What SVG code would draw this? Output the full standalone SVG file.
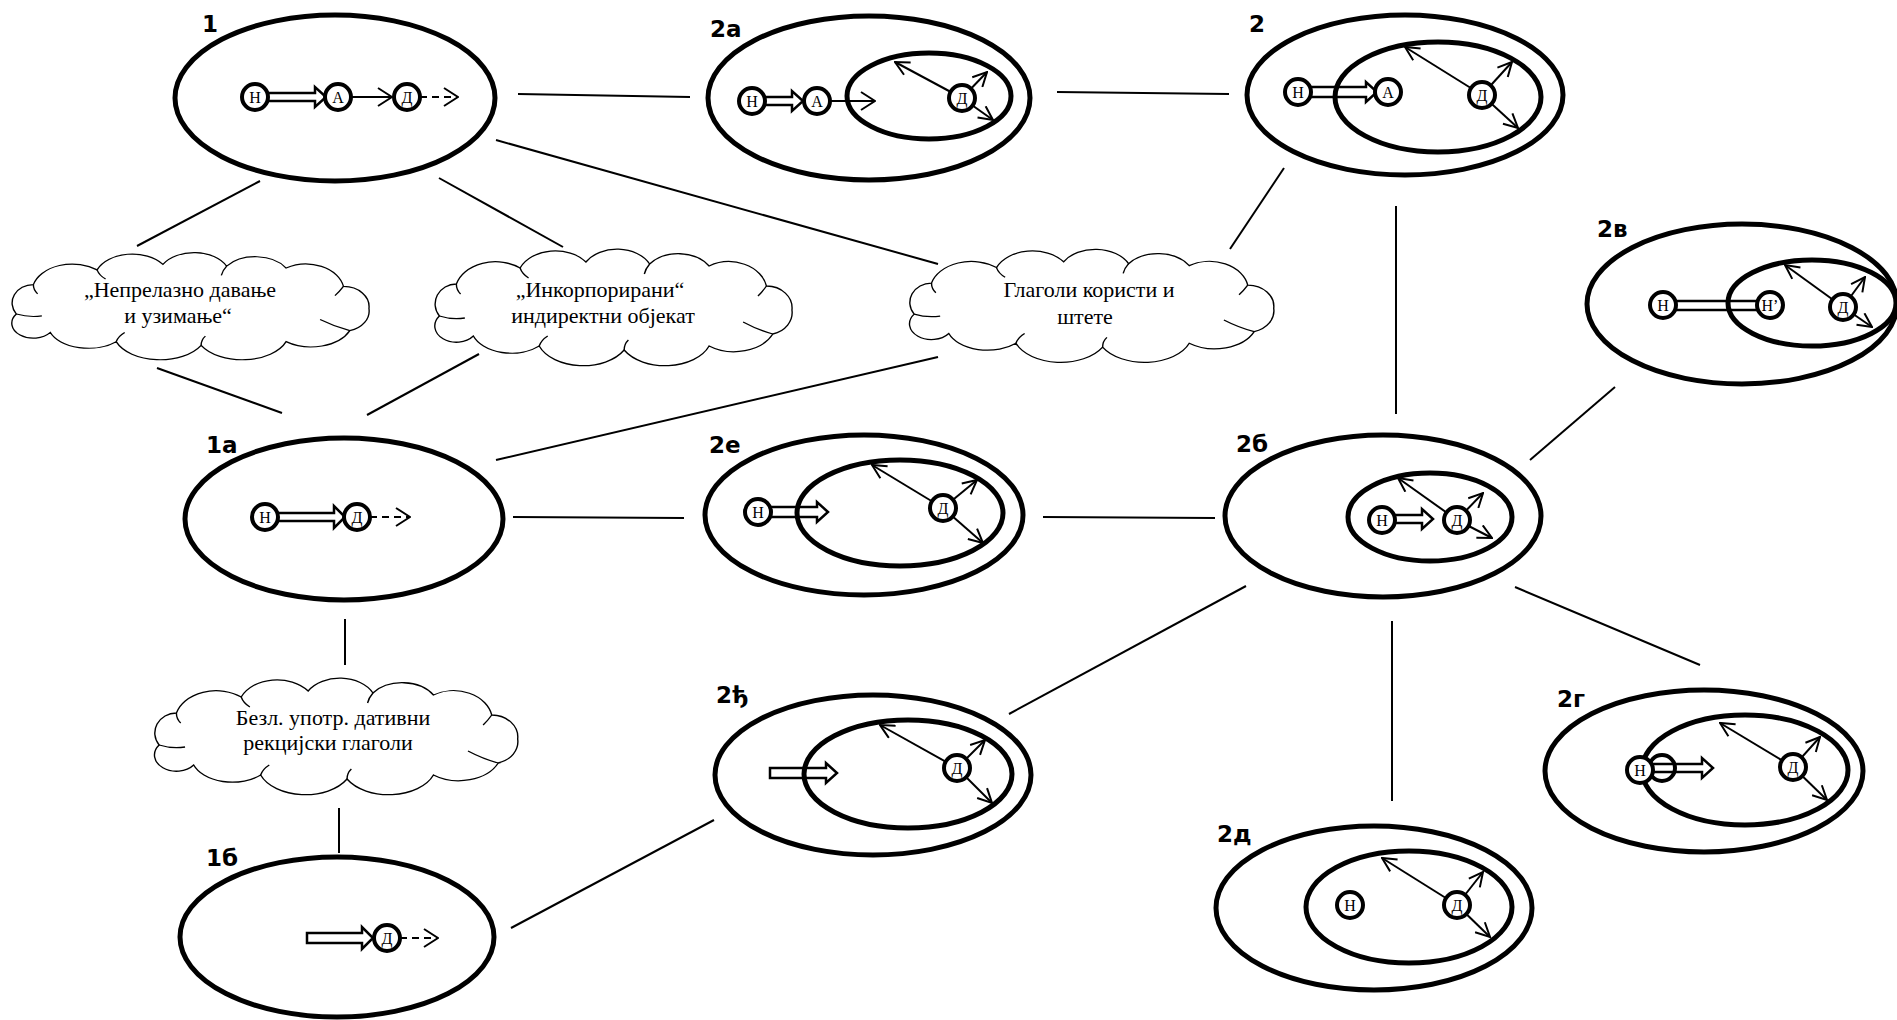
<svg xmlns="http://www.w3.org/2000/svg" width="1897" height="1020" viewBox="0 0 1897 1020">
<style>
.ol{fill:none;stroke:#000;stroke-width:5}
.ci{fill:#fff;stroke:#000;stroke-width:4}
.ln{stroke:#000;stroke-width:2;fill:none}
.ar{stroke:#000;stroke-width:2;fill:none;marker-end:url(#big)}
.da{stroke:#000;stroke-width:2;fill:none;stroke-dasharray:7 5;marker-end:url(#big)}
.sa{stroke:#000;stroke-width:2;fill:none;marker-end:url(#sm)}
.blk{fill:#fff;stroke:#000;stroke-width:2.5;stroke-linejoin:miter}
.lbl{font-family:"DejaVu Sans",sans-serif;font-weight:bold;font-size:23px;fill:#000}
.ct{font-family:"Liberation Serif",serif;font-size:16px;text-anchor:middle;fill:#000}
.cl{fill:#fff;stroke:#000;stroke-width:1.3}
.cli{fill:none;stroke:#000;stroke-width:1.3}
.clt{font-family:"Liberation Serif",serif;font-size:22px;text-anchor:middle;fill:#000}
</style>
<defs>
<marker id="big" viewBox="0 0 16 20" refX="15" refY="10" markerWidth="16" markerHeight="20" markerUnits="userSpaceOnUse" orient="auto">
<path d="M1,1 L15,10 L1,19" fill="none" stroke="#000" stroke-width="2"/>
</marker>
<marker id="sm" viewBox="0 0 16 16" refX="15" refY="8" markerWidth="16" markerHeight="16" markerUnits="userSpaceOnUse" orient="auto">
<path d="M1,1 L15,8 L1,15" fill="none" stroke="#000" stroke-width="2"/>
</marker>
<g id="cloud">
<path class="cl" d="M14,62 A20,20 0 0 1 30,30 A38,30 0 0 1 90,14 A36,28 0 0 1 152,8 A34,26 0 0 1 212,10 A34,26 0 0 1 268,12 A36,30 0 0 1 322,32 A24,22 0 0 1 346,56 A24,22 0 0 1 328,80 A40,30 0 0 1 268,92 A44,30 0 0 1 188,96 A44,30 0 0 1 108,92 A38,26 0 0 1 46,82 A20,16 0 0 1 14,62 Z"/>
<path class="cli" d="M14,62 Q26,66 38,64 M30,30 Q30,36 34,40 M90,14 Q92,20 98,24 M212,10 Q208,15 207,20 M322,32 Q318,38 314,42 M328,80 Q314,76 300,68 M188,96 Q188,90 192,86 M108,92 Q110,86 116,82"/>
</g>
</defs>

<g id="connectors">
<line class="ln" x1="518" y1="94" x2="690" y2="97"/>
<line class="ln" x1="1057" y1="92" x2="1229" y2="94"/>
<line class="ln" x1="260" y1="181" x2="137" y2="246"/>
<line class="ln" x1="439" y1="178" x2="563" y2="247"/>
<line class="ln" x1="496" y1="140" x2="938" y2="264"/>
<line class="ln" x1="1284" y1="168" x2="1230" y2="249"/>
<line class="ln" x1="157" y1="368" x2="282" y2="413"/>
<line class="ln" x1="479" y1="354" x2="367" y2="415"/>
<line class="ln" x1="938" y1="357" x2="496" y2="460"/>
<line class="ln" x1="513" y1="517" x2="684" y2="518"/>
<line class="ln" x1="1043" y1="517" x2="1215" y2="518"/>
<line class="ln" x1="1396" y1="206" x2="1396" y2="414"/>
<line class="ln" x1="1530" y1="460" x2="1615" y2="387"/>
<line class="ln" x1="1246" y1="586" x2="1009" y2="714"/>
<line class="ln" x1="1392" y1="621" x2="1392" y2="801"/>
<line class="ln" x1="1515" y1="587" x2="1700" y2="665"/>
<line class="ln" x1="345" y1="619" x2="345" y2="665"/>
<line class="ln" x1="339" y1="808" x2="339" y2="853"/>
<line class="ln" x1="511" y1="928" x2="714" y2="820"/>
</g>

<g id="cloud1">
<use href="#cloud" transform="translate(1.5,257) scale(1.062,0.92)"/>
<text class="clt" x="180" y="297">„Непрелазно давање</text>
<text class="clt" x="178" y="323">и узимање“</text>
</g>
<g id="cloud2">
<use href="#cloud" transform="translate(424.5,254) scale(1.062,1.0)"/>
<text class="clt" x="600" y="297">„Инкорпорирани“</text>
<text class="clt" x="603" y="323">индиректни објекат</text>
</g>
<g id="cloud3">
<use href="#cloud" transform="translate(899,254) scale(1.083,0.97)"/>
<text class="clt" x="1089" y="297">Глаголи користи и</text>
<text class="clt" x="1085" y="324">штете</text>
</g>
<g id="cloud4">
<use href="#cloud" transform="translate(144,683) scale(1.08,1.0)"/>
<text class="clt" x="333" y="725">Безл. употр. дативни</text>
<text class="clt" x="328" y="750">рекцијски глаголи</text>
</g>

<g id="n1">
<ellipse class="ol" cx="335" cy="98" rx="160" ry="83"/>
<text class="lbl" x="202" y="32">1</text>
<path class="blk" d="M262,93 L315,93 L315,87 L326,97 L315,107 L315,101 L262,101 Z"/>
<line class="ar" x1="350" y1="97" x2="392" y2="97"/>
<line class="da" x1="420" y1="97" x2="458" y2="97"/>
<circle class="ci" cx="255" cy="97" r="13"/><text class="ct" x="255" y="102.5">Н</text>
<circle class="ci" cx="338" cy="97" r="13"/><text class="ct" x="338" y="102.5">А</text>
<circle class="ci" cx="407" cy="97" r="13"/><text class="ct" x="407" y="102.5">Д</text>
</g>

<g id="n2a">
<ellipse class="ol" cx="869" cy="98" rx="161" ry="82"/>
<text class="lbl" x="710" y="37">2а</text>
<path class="blk" d="M758,97 L792,97 L792,91 L803,101 L792,111 L792,105 L758,105 Z"/>
<line class="ar" x1="828" y1="101" x2="875" y2="101"/>
<ellipse class="ol" cx="929" cy="96" rx="82" ry="43"/>
<line class="sa" x1="962" y1="98" x2="895" y2="62"/>
<line class="sa" x1="962" y1="98" x2="987" y2="72"/>
<line class="sa" x1="962" y1="98" x2="993" y2="120"/>
<circle class="ci" cx="752" cy="101" r="13"/><text class="ct" x="752" y="106.5">Н</text>
<circle class="ci" cx="817" cy="101" r="13"/><text class="ct" x="817" y="106.5">А</text>
<circle class="ci" cx="962" cy="98" r="13"/><text class="ct" x="962" y="103.5">Д</text>
</g>

<g id="n2">
<ellipse class="ol" cx="1405" cy="95" rx="158" ry="80"/>
<text class="lbl" x="1249" y="32">2</text>
<path class="blk" d="M1305,87 L1366,87 L1366,82 L1377,92 L1366,102 L1366,97 L1305,97 Z"/>
<ellipse class="ol" cx="1438" cy="97" rx="103" ry="55"/>
<line class="sa" x1="1482" y1="95" x2="1405" y2="47"/>
<line class="sa" x1="1482" y1="95" x2="1512" y2="62"/>
<line class="sa" x1="1482" y1="95" x2="1518" y2="128"/>
<circle class="ci" cx="1298" cy="92" r="13"/><text class="ct" x="1298" y="97.5">Н</text>
<circle class="ci" cx="1388" cy="92" r="13"/><text class="ct" x="1388" y="97.5">А</text>
<circle class="ci" cx="1482" cy="95" r="13"/><text class="ct" x="1482" y="100.5">Д</text>
</g>

<g id="n2v">
<ellipse class="ol" cx="1742" cy="304" rx="155" ry="80"/>
<text class="lbl" x="1597" y="237">2в</text>
<rect class="blk" x="1672" y="301" width="90" height="9"/>
<ellipse class="ol" cx="1812" cy="303" rx="84" ry="43"/>
<line class="sa" x1="1843" y1="307" x2="1785" y2="265"/>
<line class="sa" x1="1843" y1="307" x2="1865" y2="277"/>
<line class="sa" x1="1843" y1="307" x2="1872" y2="327"/>
<circle class="ci" cx="1663" cy="305" r="13"/><text class="ct" x="1663" y="310.5">Н</text>
<circle class="ci" cx="1770" cy="305" r="13"/><text class="ct" x="1770" y="310.5">Н’</text>
<circle class="ci" cx="1843" cy="307" r="13"/><text class="ct" x="1843" y="312.5">Д</text>
</g>

<g id="n1a">
<ellipse class="ol" cx="344" cy="519" rx="159" ry="81"/>
<text class="lbl" x="206" y="453">1а</text>
<path class="blk" d="M270,513 L334,513 L334,506 L345,517 L334,528 L334,521 L270,521 Z"/>
<line class="da" x1="370" y1="517" x2="410" y2="517"/>
<circle class="ci" cx="265" cy="517" r="13"/><text class="ct" x="265" y="522.5">Н</text>
<circle class="ci" cx="357" cy="517" r="13"/><text class="ct" x="357" y="522.5">Д</text>
</g>

<g id="n2e">
<ellipse class="ol" cx="864" cy="515" rx="159" ry="80"/>
<text class="lbl" x="709" y="453">2е</text>
<path class="blk" d="M765,507 L817,507 L817,502 L828,512 L817,522 L817,517 L765,517 Z"/>
<ellipse class="ol" cx="900" cy="513" rx="103" ry="53"/>
<line class="sa" x1="943" y1="508" x2="872" y2="465"/>
<line class="sa" x1="943" y1="508" x2="977" y2="480"/>
<line class="sa" x1="943" y1="508" x2="983" y2="543"/>
<circle class="ci" cx="758" cy="512" r="13"/><text class="ct" x="758" y="517.5">Н</text>
<circle class="ci" cx="943" cy="508" r="13"/><text class="ct" x="943" y="513.5">Д</text>
</g>

<g id="n2b">
<ellipse class="ol" cx="1383" cy="516" rx="158" ry="81"/>
<text class="lbl" x="1236" y="452">2б</text>
<path class="blk" d="M1390,515 L1422,515 L1422,509 L1433,519 L1422,529 L1422,523 L1390,523 Z"/>
<ellipse class="ol" cx="1430" cy="517" rx="82" ry="44"/>
<line class="sa" x1="1457" y1="520" x2="1398" y2="478"/>
<line class="sa" x1="1457" y1="520" x2="1483" y2="493"/>
<line class="sa" x1="1457" y1="520" x2="1492" y2="538"/>
<circle class="ci" cx="1382" cy="520" r="13"/><text class="ct" x="1382" y="525.5">Н</text>
<circle class="ci" cx="1457" cy="520" r="13"/><text class="ct" x="1457" y="525.5">Д</text>
</g>

<g id="n2dj">
<ellipse class="ol" cx="873" cy="775" rx="158" ry="80"/>
<text class="lbl" x="716" y="703">2ђ</text>
<path class="blk" d="M770,768 L826,768 L826,763 L837,773 L826,783 L826,778 L770,778 Z"/>
<ellipse class="ol" cx="908" cy="774" rx="104" ry="54"/>
<line class="sa" x1="957" y1="768" x2="880" y2="725"/>
<line class="sa" x1="957" y1="768" x2="985" y2="740"/>
<line class="sa" x1="957" y1="768" x2="992" y2="803"/>
<circle class="ci" cx="957" cy="768" r="13"/><text class="ct" x="957" y="773.5">Д</text>
</g>

<g id="n2g">
<ellipse class="ol" cx="1704" cy="771" rx="159" ry="81"/>
<text class="lbl" x="1557" y="707">2г</text>
<path class="blk" d="M1648,764 L1702,764 L1702,758 L1713,768 L1702,778 L1702,772 L1648,772 Z"/>
<ellipse class="ol" cx="1745" cy="770" rx="103" ry="55"/>
<circle cx="1662" cy="768" r="13" fill="none" stroke="#000" stroke-width="4"/>
<line class="sa" x1="1793" y1="767" x2="1720" y2="723"/>
<line class="sa" x1="1793" y1="767" x2="1820" y2="737"/>
<line class="sa" x1="1793" y1="767" x2="1827" y2="800"/>
<circle class="ci" cx="1640" cy="770" r="13"/><text class="ct" x="1640" y="775.5">Н</text>
<circle class="ci" cx="1793" cy="767" r="13"/><text class="ct" x="1793" y="772.5">Д</text>
</g>

<g id="n2d">
<ellipse class="ol" cx="1374" cy="908" rx="158" ry="82"/>
<text class="lbl" x="1217" y="842">2д</text>
<ellipse class="ol" cx="1409" cy="907" rx="103" ry="56"/>
<line class="sa" x1="1457" y1="905" x2="1382" y2="858"/>
<line class="sa" x1="1457" y1="905" x2="1483" y2="872"/>
<line class="sa" x1="1457" y1="905" x2="1490" y2="937"/>
<circle class="ci" cx="1350" cy="905" r="13"/><text class="ct" x="1350" y="910.5">Н</text>
<circle class="ci" cx="1457" cy="905" r="13"/><text class="ct" x="1457" y="910.5">Д</text>
</g>

<g id="n1b">
<ellipse class="ol" cx="337" cy="937" rx="157" ry="80"/>
<text class="lbl" x="206" y="866">1б</text>
<path class="blk" d="M307,933 L362,933 L362,927 L373,938 L362,949 L362,943 L307,943 Z"/>
<line class="da" x1="400" y1="938" x2="438" y2="938"/>
<circle class="ci" cx="387" cy="938" r="13"/><text class="ct" x="387" y="943.5">Д</text>
</g>
</svg>
